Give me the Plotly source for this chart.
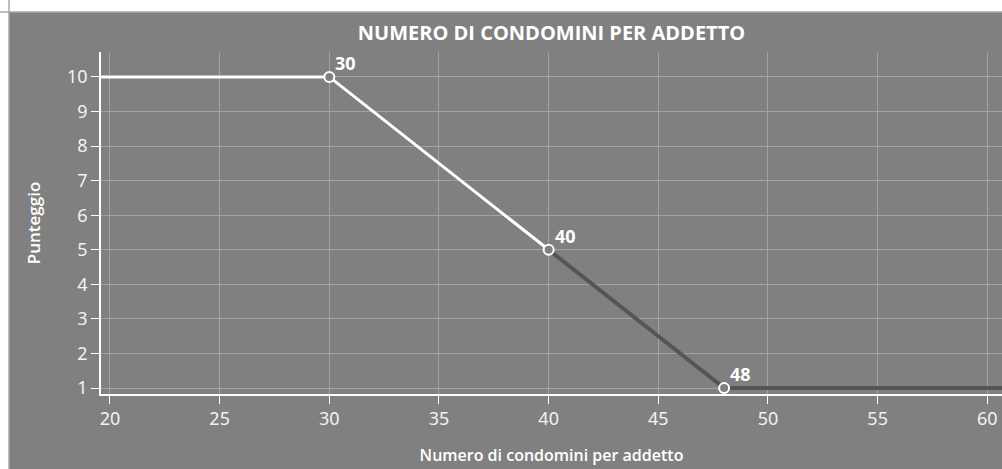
import plotly.graph_objects as go

# ── Dati ──────────────────────────────────────────────
x_bianco = [15, 30, 40]
y_bianco = [10, 10, 5]
x_scuro = [40, 48, 65]
y_scuro = [5, 1, 1]
x_punti = [30, 40, 48]
y_punti = [10, 5, 1]
etichette = ["30", "40", "48"]
tick_x = [20, 25, 30, 35, 40, 45, 50, 55, 60]
tick_y = [1, 2, 3, 4, 5, 6, 7, 8, 9, 10]

GRIGIO = "#808080"
BORDO = "#a8a8a8"
FONT = "Noto Sans, Open Sans, sans-serif"

fig = go.Figure()

fig.add_trace(go.Scatter(
    x=x_scuro, y=y_scuro, mode="lines",
    line=dict(color="#555555", width=4),
    hoverinfo="skip"
))
fig.add_trace(go.Scatter(
    x=x_bianco, y=y_bianco, mode="lines",
    line=dict(color="white", width=3),
    hoverinfo="skip"
))
fig.add_trace(go.Scatter(
    x=x_punti, y=y_punti, mode="markers",
    marker=dict(size=10, color=GRIGIO, line=dict(color="white", width=2)),
    cliponaxis=False
))

# etichette dei punti
for xv, yv, t in zip(x_punti, y_punti, etichette):
    fig.add_annotation(
        x=xv, y=yv, text=f"<b>{t}</b>", showarrow=False,
        xanchor="left", yanchor="bottom", xshift=4, yshift=0,
        font=dict(family=FONT, size=18, color="white"),
    )

# margine bianco in alto e a sinistra + bordo chiaro del riquadro
fig.add_shape(type="rect", xref="paper", yref="paper", layer="above",
              xsizemode="pixel", xanchor=0, x0=-120, x1=-92, y0=-0.5, y1=1.5,
              fillcolor="white", line_width=0)
fig.add_shape(type="rect", xref="paper", yref="paper", layer="above",
              ysizemode="pixel", yanchor=1, y0=40, y1=80, x0=-0.5, x1=1.5,
              fillcolor="white", line_width=0)
fig.add_shape(type="line", xref="paper", yref="paper", layer="above",
              xsizemode="pixel", xanchor=0, x0=-92, x1=-92, y0=-0.5, y1=1.5,
              line=dict(color=BORDO, width=1.5))
fig.add_shape(type="line", xref="paper", yref="paper", layer="above",
              ysizemode="pixel", yanchor=1, y0=40, y1=40, x0=-0.2, x1=1.5,
              line=dict(color=BORDO, width=1.5))

fig.update_layout(
    width=1002, height=469,
    margin=dict(l=101, r=0, t=52, b=75),
    paper_bgcolor=GRIGIO, plot_bgcolor=GRIGIO,
    showlegend=False,
    title=dict(text="<b>NUMERO DI CONDOMINI PER ADDETTO</b>",
               font=dict(family="Open Sans, sans-serif", size=20, color="white"),
               x=0.5, xref="paper", y=1 - 33 / 469, yanchor="middle"),
    font=dict(family=FONT, color="#f2f2f2"),
)

fig.update_xaxes(
    range=[19.59, 60.67], tickmode="array", tickvals=tick_x,
    showgrid=True, gridcolor="#a2a2a2", gridwidth=1, zeroline=False,
    showline=True, linecolor="white", linewidth=1.5,
    ticks="outside", ticklen=8, tickcolor="white", tickwidth=1,
    tickfont=dict(family=FONT, size=18, color="#f2f2f2"),
    title=dict(text="Numero di condomini per addetto", standoff=20,
               font=dict(family="Open Sans, sans-serif", size=16, color="white",
                         weight=600)),
)
fig.update_yaxes(
    range=[0.83, 10.72], tickmode="array", tickvals=tick_y,
    showgrid=True, gridcolor="#a2a2a2", gridwidth=1, zeroline=False,
    showline=True, linecolor="white", linewidth=1.5,
    ticks="outside", ticklen=8, tickcolor="white", tickwidth=1,
    tickfont=dict(family=FONT, size=18, color="#f2f2f2"),
    title=dict(text="Punteggio", standoff=22,
               font=dict(family="Open Sans, sans-serif", size=17, color="white",
                         weight=600)),
)

fig.write_html(
    "out.html",
    config={"displayModeBar": False},
    post_script="document.body.style.margin='0';document.body.style.overflow='hidden';",
)
